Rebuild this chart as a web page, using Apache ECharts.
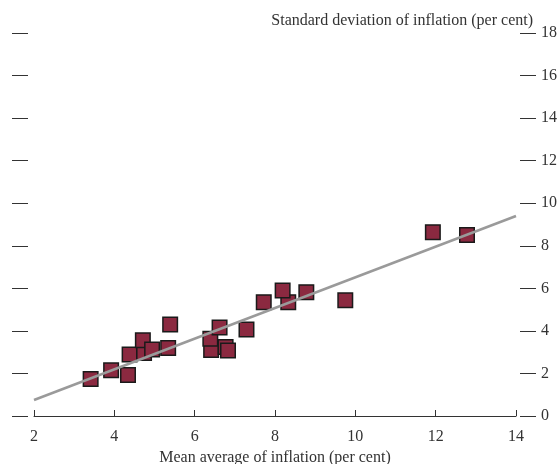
<!DOCTYPE html>
<html>
<head>
<meta charset="utf-8">
<script src="https://cdn.jsdelivr.net/npm/echarts@6/dist/echarts.min.js"></script>
<style>
html,body{margin:0;padding:0;background:#fff;}
#chart{width:558px;height:464px;}
</style>
</head>
<body>
<div id="chart"></div>
<script>
// Mean average of inflation (per cent)
const meanInflation = [3.41, 3.92, 4.34, 4.38, 4.74, 4.71, 4.94, 5.34, 5.39, 6.41, 6.39, 6.62, 6.77, 6.83, 7.29, 7.72, 8.33, 8.19, 8.78, 9.75, 11.93, 12.78];
// Standard deviation of inflation (per cent)
const sdInflation   = [1.74, 2.15, 1.93, 2.89, 2.96, 3.56, 3.13, 3.20, 4.30, 3.10, 3.63, 4.16, 3.24, 3.08, 4.06, 5.35, 5.35, 5.90, 5.82, 5.44, 8.64, 8.51];
// Trend line end points
const trendX = [2, 14];
const trendY = [0.75, 9.4];
const xTicks = [2, 4, 6, 8, 10, 12, 14];
const yTicks = [0, 2, 4, 6, 8, 10, 12, 14, 16, 18];

const font = 'Liberation Serif';
const textColor = '#333';
const chart = echarts.init(document.getElementById('chart'));
chart.setOption({
  animation: false,
  backgroundColor: '#fff',
  title: {
    text: 'Standard deviation of inflation (per cent)',
    right: 20, top: 8,
    textStyle: {fontFamily: font, fontSize: 16, fontWeight: 'normal', color: textColor}
  },
  grid: {left: 34, right: 42, top: 33, bottom: 48, outerBoundsMode: 'none', containLabel: false},
  xAxis: {
    type: 'value', min: xTicks[0], max: xTicks[xTicks.length - 1], interval: 2,
    name: 'Mean average of inflation (per cent)',
    nameLocation: 'middle', nameGap: 32,
    nameTextStyle: {fontFamily: font, fontSize: 16, color: textColor},
    axisLine: {show: true, lineStyle: {color: '#333', width: 1}},
    axisTick: {show: true, inside: true, length: 6, lineStyle: {color: '#333', width: 1}},
    axisLabel: {fontFamily: font, fontSize: 16, color: textColor, margin: 13},
    splitLine: {show: false}
  },
  yAxis: [
    {
      type: 'value', position: 'left', offset: 6,
      min: yTicks[0], max: yTicks[yTicks.length - 1], interval: 2,
      axisLine: {show: false},
      axisTick: {show: true, length: 16, lineStyle: {color: '#333', width: 1}},
      axisLabel: {show: false},
      splitLine: {show: false}
    },
    {
      type: 'value', position: 'right', offset: 4,
      min: yTicks[0], max: yTicks[yTicks.length - 1], interval: 2,
      axisLine: {show: false},
      axisTick: {show: true, length: 16, lineStyle: {color: '#333', width: 1}},
      axisLabel: {fontFamily: font, fontSize: 16, color: textColor, margin: 21},
      splitLine: {show: false}
    }
  ],
  series: [
    {
      type: 'scatter',
      yAxisIndex: 1,
      symbol: 'rect',
      symbolSize: 14.5,
      data: meanInflation.map((x, i) => [x, sdInflation[i]]),
      itemStyle: {color: '#8b2940', borderColor: '#1a1a1a', borderWidth: 1.5, opacity: 1},
      z: 2
    },
    {
      type: 'line',
      yAxisIndex: 1,
      data: trendX.map((x, i) => [x, trendY[i]]),
      symbol: 'none',
      lineStyle: {color: '#9a9a9a', width: 2.5},
      z: 3
    }
  ]
});
</script>
</body>
</html>
